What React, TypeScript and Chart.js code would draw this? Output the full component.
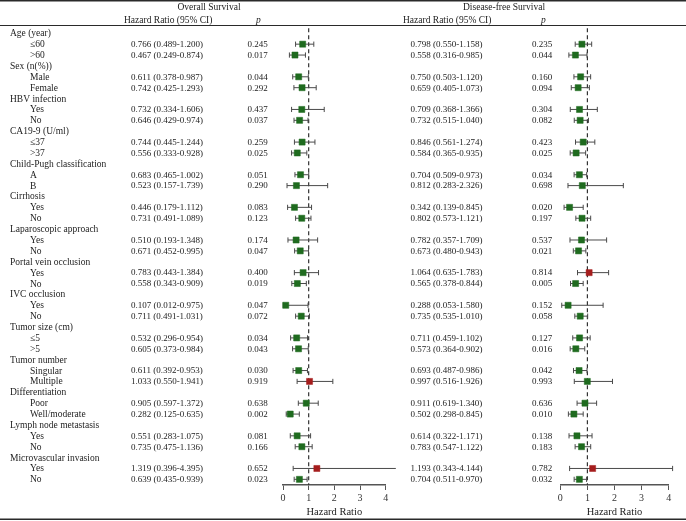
import React, { useEffect, useRef } from 'react';
import { Chart, registerables } from 'chart.js';

Chart.register(...registerables);

// ---------- data ----------
const groups = [
  'Age (year)', 'Sex (n(%))', 'HBV infection', 'CA19-9 (U/ml)', 'Child-Pugh classification',
  'Cirrhosis', 'Laparoscopic approach', 'Portal vein occlusion', 'IVC occlusion', 'Tumor size (cm)',
  'Tumor number', 'Differentiation', 'Lymph node metastasis', 'Microvascular invasion',
];
const subgroups = [
  ['≤60', '>60'], ['Male', 'Female'], ['Yes', 'No'], ['≤37', '>37'], ['A', 'B'],
  ['Yes', 'No'], ['Yes', 'No'], ['Yes', 'No'], ['Yes', 'No'], ['≤5', '>5'],
  ['Singular', 'Multiple'], ['Poor', 'Well/moderate'], ['Yes', 'No'], ['Yes', 'No'],
];

const osHR = [0.766, 0.467, 0.611, 0.742, 0.732, 0.646, 0.744, 0.556, 0.683, 0.523, 0.446, 0.731, 0.510, 0.671,
  0.783, 0.558, 0.107, 0.711, 0.532, 0.605, 0.611, 1.033, 0.905, 0.282, 0.551, 0.735, 1.319, 0.639];
const osLo = [0.489, 0.249, 0.378, 0.425, 0.334, 0.429, 0.445, 0.333, 0.465, 0.157, 0.179, 0.491, 0.193, 0.452,
  0.443, 0.343, 0.012, 0.491, 0.296, 0.373, 0.392, 0.550, 0.597, 0.125, 0.283, 0.475, 0.396, 0.435];
const osHi = [1.200, 0.874, 0.987, 1.293, 1.606, 0.974, 1.244, 0.928, 1.002, 1.739, 1.112, 1.089, 1.348, 0.995,
  1.384, 0.909, 0.975, 1.031, 0.954, 0.984, 0.953, 1.941, 1.372, 0.635, 1.075, 1.136, 4.395, 0.939];
const osP = ['0.245', '0.017', '0.044', '0.292', '0.437', '0.037', '0.259', '0.025', '0.051', '0.290', '0.083', '0.123',
  '0.174', '0.047', '0.400', '0.019', '0.047', '0.072', '0.034', '0.043', '0.030', '0.919', '0.638', '0.002',
  '0.081', '0.166', '0.652', '0.023'];

const dfsHR = [0.798, 0.558, 0.750, 0.659, 0.709, 0.732, 0.846, 0.584, 0.704, 0.812, 0.342, 0.802, 0.782, 0.673,
  1.064, 0.565, 0.288, 0.735, 0.711, 0.573, 0.693, 0.997, 0.911, 0.502, 0.614, 0.783, 1.193, 0.704];
const dfsLo = [0.550, 0.316, 0.503, 0.405, 0.368, 0.515, 0.561, 0.365, 0.509, 0.283, 0.139, 0.573, 0.357, 0.480,
  0.635, 0.378, 0.053, 0.535, 0.459, 0.364, 0.487, 0.516, 0.619, 0.298, 0.322, 0.547, 0.343, 0.511];
const dfsHi = [1.158, 0.985, 1.120, 1.073, 1.366, 1.040, 1.274, 0.935, 0.973, 2.326, 0.845, 1.121, 1.709, 0.943,
  1.783, 0.844, 1.580, 1.010, 1.102, 0.902, 0.986, 1.926, 1.340, 0.845, 1.171, 1.122, 4.144, 0.970];
const dfsP = ['0.235', '0.044', '0.160', '0.094', '0.304', '0.082', '0.423', '0.025', '0.034', '0.698', '0.020', '0.197',
  '0.537', '0.021', '0.814', '0.005', '0.152', '0.058', '0.127', '0.016', '0.042', '0.993', '0.636', '0.010',
  '0.138', '0.183', '0.782', '0.032'];

const xTicks = [0, 1, 2, 3, 4];

// ---------- layout / style ----------
const W = 686;
const H = 521;
const Y_MIN = -0.67;
const Y_MAX = 41.52;
const FONT = '"Liberation Serif", "DejaVu Serif", serif';
const GREEN = '#1f6b1f';
const RED = '#a51d1d';
const BAR = '#4a4a4a';
const TXT = '#1c1c1c';

const rowOf = (i: number) => Math.floor(i / 2) * 3 + 1 + (i % 2);
const fmt = (h: number, l: number, u: number) => `${h.toFixed(3)} (${l.toFixed(3)}-${u.toFixed(3)})`;

const textPlugin = {
  id: 'forestText',
  afterDraw(chart: any) {
    const ctx = chart.ctx;
    const ys = chart.scales.y;
    ctx.save();
    ctx.fillStyle = '#2a2a2a';
    ctx.fillRect(0, 0, W, 1.5);
    ctx.fillRect(0, 25, W, 1);
    ctx.fillRect(0, 518.5, W, 1.5);

    ctx.fillStyle = TXT;
    ctx.textBaseline = 'middle';
    ctx.font = `9.5px ${FONT}`;
    ctx.textAlign = 'center';
    ctx.fillText('Overall Survival', 209, 7);
    ctx.fillText('Disease-free Survival', 504, 7);
    ctx.textAlign = 'left';
    ctx.fillText('Hazard Ratio (95% CI)', 124, 20);
    ctx.fillText('Hazard Ratio (95% CI)', 403, 20);
    ctx.font = `italic 9.5px ${FONT}`;
    ctx.fillText('p', 256, 20);
    ctx.fillText('p', 541, 20);

    groups.forEach((g, gi) => {
      ctx.font = `9.5px ${FONT}`;
      ctx.fillText(g, 10, ys.getPixelForValue(gi * 3) + 0.5);
      subgroups[gi].forEach((s, si) => {
        const idx = gi * 2 + si;
        const py = ys.getPixelForValue(rowOf(idx)) + 0.5;
        ctx.font = `9.5px ${FONT}`;
        ctx.fillText(s, 30, py);
        ctx.font = `9px ${FONT}`;
        ctx.fillText(fmt(osHR[idx], osLo[idx], osHi[idx]), 131, py);
        ctx.fillText(osP[idx], 247.5, py);
        ctx.fillText(fmt(dfsHR[idx], dfsLo[idx], dfsHi[idx]), 410.5, py);
        ctx.fillText(dfsP[idx], 532, py);
      });
    });
    ctx.restore();
  },
};

function buildConfig(hr: number[], lo: number[], hi: number[], left: number, right: number, withText: boolean): any {
  const points = hr.map((v, i) => ({ x: v, y: rowOf(i) }));
  const colors = hr.map((v) => (v > 1 ? RED : GREEN));
  const bars: any[] = [];
  hr.forEach((_, i) => {
    const r = rowOf(i);
    bars.push({ x: lo[i], y: r }, { x: hi[i], y: r }, { x: null, y: r });
  });
  return {
    type: 'scatter',
    data: {
      datasets: [
        {
          data: points,
          pointStyle: 'rect',
          pointRadius: 4.3,
          pointBackgroundColor: colors,
          pointBorderColor: colors,
          pointBorderWidth: 0.5,
          clip: false,
          order: 0,
        },
        {
          data: bars,
          showLine: true,
          spanGaps: false,
          borderColor: BAR,
          borderWidth: 1,
          pointStyle: 'line',
          pointRotation: 90,
          pointRadius: 2.6,
          pointBorderColor: BAR,
          pointBorderWidth: 1,
          clip: false,
          order: 1,
        },
        {
          data: [{ x: 1, y: Y_MIN + 0.2 }, { x: 1, y: Y_MAX }],
          showLine: true,
          borderColor: '#333',
          borderWidth: 1.2,
          borderDash: [4, 3],
          pointRadius: 0,
          clip: false,
          order: 2,
        },
      ],
    },
    options: {
      animation: false,
      responsive: false,
      devicePixelRatio: 1,
      events: [],
      layout: { padding: { left, right, top: 26, bottom: 2 } },
      plugins: { legend: { display: false }, tooltip: { enabled: false }, title: { display: false } },
      scales: {
        x: {
          type: 'linear',
          min: xTicks[0],
          max: xTicks[xTicks.length - 1],
          afterBuildTicks: (s: any) => { s.ticks = xTicks.map((v) => ({ value: v })); },
          afterFit: (s: any) => { s.height = 34; s.paddingLeft = 0; s.paddingRight = 0; },
          ticks: { color: '#333', font: { family: FONT, size: 10 }, padding: 2, maxRotation: 0 },
          grid: { drawOnChartArea: false, drawTicks: true, tickLength: 5, color: '#555', lineWidth: 1 },
          border: { display: true, color: '#555', width: 1.5 },
          title: {
            display: true,
            text: 'Hazard Ratio',
            color: TXT,
            font: { family: FONT, size: 10.5 },
            padding: { top: 0, bottom: 0 },
          },
        },
        y: { type: 'linear', display: false, min: Y_MIN, max: Y_MAX, reverse: true },
      },
    },
    plugins: withText ? [textPlugin] : [],
  };
}

export default function App() {
  const osRef = useRef<HTMLCanvasElement | null>(null);
  const dfsRef = useRef<HTMLCanvasElement | null>(null);

  useEffect(() => {
    document.body.style.margin = '0';
    const c1 = new Chart(osRef.current as HTMLCanvasElement, buildConfig(osHR, osLo, osHi, 283, W - 385.7, true));
    const c2 = new Chart(dfsRef.current as HTMLCanvasElement, buildConfig(dfsHR, dfsLo, dfsHi, 560.3, W - 668.7, false));
    return () => {
      c1.destroy();
      c2.destroy();
    };
  }, []);

  return (
    <div style={{ position: 'relative', width: W, height: H, background: '#fff' }}>
      <canvas ref={osRef} width={W} height={H} style={{ position: 'absolute', left: 0, top: 0 }} />
      <canvas ref={dfsRef} width={W} height={H} style={{ position: 'absolute', left: 0, top: 0 }} />
    </div>
  );
}
